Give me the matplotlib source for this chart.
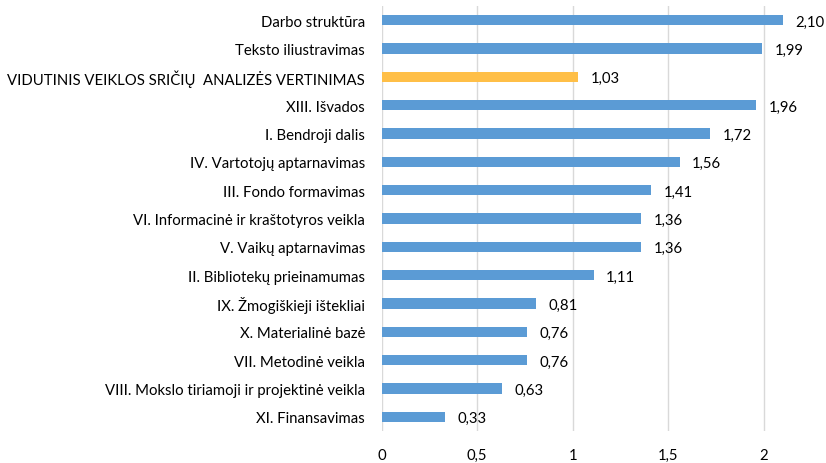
import matplotlib
matplotlib.use("Agg")
import matplotlib.pyplot as plt

categories = [
    "Darbo struktūra",
    "Teksto iliustravimas",
    "VIDUTINIS VEIKLOS SRIČIŲ  ANALIZĖS VERTINIMAS",
    "XIII. Išvados",
    "I. Bendroji dalis",
    "IV. Vartotojų aptarnavimas",
    "III. Fondo formavimas",
    "VI. Informacinė ir kraštotyros veikla",
    "V. Vaikų aptarnavimas",
    "II. Bibliotekų prieinamumas",
    "IX. Žmogiškieji ištekliai",
    "X. Materialinė bazė",
    "VII. Metodinė veikla",
    "VIII. Mokslo tiriamoji ir projektinė veikla",
    "XI. Finansavimas",
]
values = [2.10, 1.99, 1.03, 1.96, 1.72, 1.56, 1.41, 1.36, 1.36, 1.11, 0.81, 0.76, 0.76, 0.63, 0.33]
highlight = "VIDUTINIS VEIKLOS SRIČIŲ  ANALIZĖS VERTINIMAS"
xticks = [0, 0.5, 1, 1.5, 2]
xtick_labels = ["0", "0,5", "1", "1,5", "2"]

plt.rcParams['font.family'] = ['Lato', 'DejaVu Sans']

fig = plt.figure(figsize=(8.26, 4.64), dpi=100)
ax = fig.add_axes([0.462, 0.069, 0.532, 0.916])

colors = ["#FFBF47" if c == highlight else "#5B9BD5" for c in categories]
pos = list(range(len(categories)))
bars = ax.barh(pos, values, height=0.36, color=colors, zorder=3)

for p, v in zip(pos, values):
    ax.annotate(f"{v:.2f}".replace(".", ","), xy=(v, p), xytext=(9, -1),
                textcoords="offset points", va="center", ha="left",
                fontsize=10.7, color="#000000")

ax.set_yticks(pos)
ax.set_yticklabels(categories, fontsize=10.7)
ax.set_ylim(len(categories) - 0.5, -0.5)
ax.set_xlim(0, 2.30)
ax.set_xticks(xticks)
ax.set_xticklabels(xtick_labels, fontsize=10.7)
ax.tick_params(axis='both', length=0)
ax.tick_params(axis='y', pad=12)
ax.tick_params(axis='x', pad=12)
ax.grid(axis='x', color="#D9D9D9", linewidth=1, zorder=0)
for s in ax.spines.values():
    s.set_visible(False)

fig.savefig("out.png", dpi=100)
